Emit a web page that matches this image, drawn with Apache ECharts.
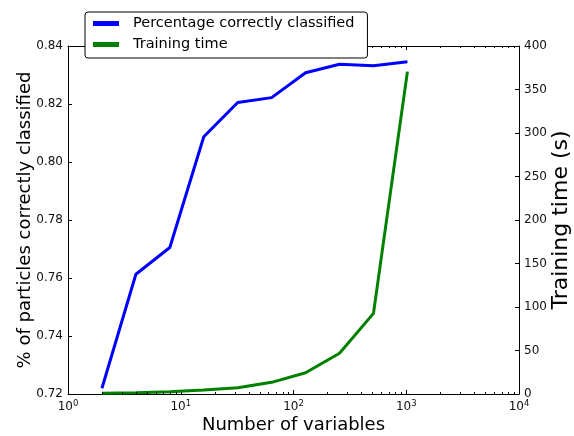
<!DOCTYPE html>
<html>
<head>
<meta charset="utf-8">
<script src="https://cdn.jsdelivr.net/npm/echarts@6/dist/echarts.min.js"></script>
<style>
  html, body { margin: 0; padding: 0; background: #fff; }
  #chart { width: 574px; height: 436px; }
</style>
</head>
<body>
<div id="chart"></div>
<script>
// Number of input variables (log scale)
const nVariables = [2, 4, 8, 16, 32, 64, 128, 256, 512, 1024];
// Fraction of particles correctly classified (left axis)
const accuracy = [0.722, 0.7613, 0.7705, 0.8087, 0.8205, 0.8222, 0.8308, 0.8337, 0.8332, 0.8346];
// Training time in seconds (right axis)
const trainingTime = [1, 1.5, 2.5, 4.6, 7.3, 13.4, 24.5, 46.8, 92.7, 370.5];

// Axis ranges and tick steps
const xRange = [1, 10000];
const leftRange = [0.72, 0.84];
const leftStep = 0.02;
const rightRange = [0, 400];
const rightStep = 50;
// Minor ticks of the log axis (2..9 in every decade)
const minorTicks = [];
for (let d = 1; d < 10000; d *= 10) {
  for (let k = 2; k <= 9; k++) minorTicks.push(d * k);
}

const FONT = 'DejaVu Sans';
const LABEL_COLOR = '#111';
const chart = echarts.init(document.getElementById('chart'), null, { renderer: 'canvas' });

function powLabel(v) {
  const e = Math.round(Math.log10(v));
  return '{b|10}{s|' + e + '}';
}

const axisLineStyle = { color: '#000', width: 1 };

chart.setOption({
  animation: false,
  backgroundColor: '#fff',
  grid: { left: 68, top: 46, width: 451, height: 348, containLabel: false, outerBoundsMode: 'none' },
  legend: {
    data: ['Percentage correctly classified', 'Training time'],
    orient: 'vertical',
    left: 85,
    top: 12,
    padding: [3, 13, 5, 8],
    itemGap: 4,
    itemWidth: 26,
    itemHeight: 5,
    icon: 'rect',
    backgroundColor: '#fff',
    borderColor: '#000',
    borderWidth: 1,
    borderRadius: 3,
    z: 10,
    textStyle: { fontFamily: FONT, fontSize: 14.5, lineHeight: 17, color: '#000', padding: [0, 0, 0, 9] }
  },
  xAxis: [
    {
      type: 'log', logBase: 10, min: xRange[0], max: xRange[1], interval: 1,
      position: 'bottom',
      name: 'Number of variables', nameLocation: 'middle', nameGap: 22, nameMoveOverlap: false,
      nameTextStyle: { fontFamily: FONT, fontSize: 18, color: '#000' },
      axisLine: { lineStyle: axisLineStyle },
      axisTick: { inside: true, length: 4, lineStyle: { color: '#000' } },
      splitLine: { show: false },
      axisLabel: {
        margin: 5,
        formatter: powLabel,
        rich: {
          b: { fontFamily: FONT, fontSize: 12, color: LABEL_COLOR },
          s: { fontFamily: FONT, fontSize: 8.5, color: LABEL_COLOR, padding: [0, 0, 7, 0] }
        }
      }
    },
    {
      type: 'log', logBase: 10, min: xRange[0], max: xRange[1], interval: 1,
      position: 'top',
      axisLine: { lineStyle: axisLineStyle },
      axisTick: { inside: true, length: 4, lineStyle: { color: '#000' } },
      axisLabel: { show: false },
      splitLine: { show: false }
    }
  ],
  yAxis: [
    {
      type: 'value', min: leftRange[0], max: leftRange[1], interval: leftStep,
      position: 'left',
      name: '% of particles correctly classified', nameLocation: 'middle', nameGap: 34, nameRotate: 90,
      nameMoveOverlap: false,
      nameTextStyle: { fontFamily: FONT, fontSize: 18, color: '#000' },
      axisLine: { show: true, lineStyle: axisLineStyle },
      axisTick: { show: true, inside: true, length: 4, lineStyle: { color: '#000' } },
      splitLine: { show: false },
      axisLabel: { margin: 5, fontFamily: FONT, fontSize: 12, color: LABEL_COLOR, formatter: v => v.toFixed(2) }
    },
    {
      type: 'value', min: rightRange[0], max: rightRange[1], interval: rightStep,
      position: 'right',
      name: 'Training time (s)', nameLocation: 'middle', nameGap: 31, nameRotate: 90,
      nameMoveOverlap: false,
      nameTextStyle: { fontFamily: FONT, fontSize: 22, color: '#000' },
      axisLine: { show: true, lineStyle: axisLineStyle },
      axisTick: { show: true, inside: true, length: 4, lineStyle: { color: '#000' } },
      splitLine: { show: false },
      axisLabel: { margin: 5, fontFamily: FONT, fontSize: 12, color: LABEL_COLOR }
    }
  ],
  series: [
    {
      name: 'Percentage correctly classified',
      type: 'line', xAxisIndex: 0, yAxisIndex: 0,
      data: nVariables.map((n, i) => [n, accuracy[i]]),
      showSymbol: false, symbol: 'none',
      lineStyle: { color: '#0000ff', width: 3 },
      itemStyle: { color: '#0000ff' },
      clip: false, z: 3
    },
    {
      name: 'Training time',
      type: 'line', xAxisIndex: 0, yAxisIndex: 1,
      data: nVariables.map((n, i) => [n, trainingTime[i]]),
      showSymbol: false, symbol: 'none',
      lineStyle: { color: '#008000', width: 3 },
      itemStyle: { color: '#008000' },
      clip: false, z: 4
    },
    {
      // minor ticks on the bottom and top log axes
      name: 'minor',
      type: 'custom', xAxisIndex: 0, yAxisIndex: 0,
      silent: true, clip: false, z: 5,
      data: minorTicks.map(v => [v, leftRange[0]]),
      renderItem: function (params, api) {
        const v = api.value(0);
        const b = api.coord([v, leftRange[0]]);
        const t = api.coord([v, leftRange[1]]);
        const x = Math.round(b[0]) + 0.5;
        return {
          type: 'group',
          children: [
            { type: 'line', shape: { x1: x, y1: b[1], x2: x, y2: b[1] - 2 }, style: { stroke: '#000', lineWidth: 1 } },
            { type: 'line', shape: { x1: x, y1: t[1], x2: x, y2: t[1] + 2 }, style: { stroke: '#000', lineWidth: 1 } }
          ]
        };
      }
    }
  ]
});
</script>
</body>
</html>
